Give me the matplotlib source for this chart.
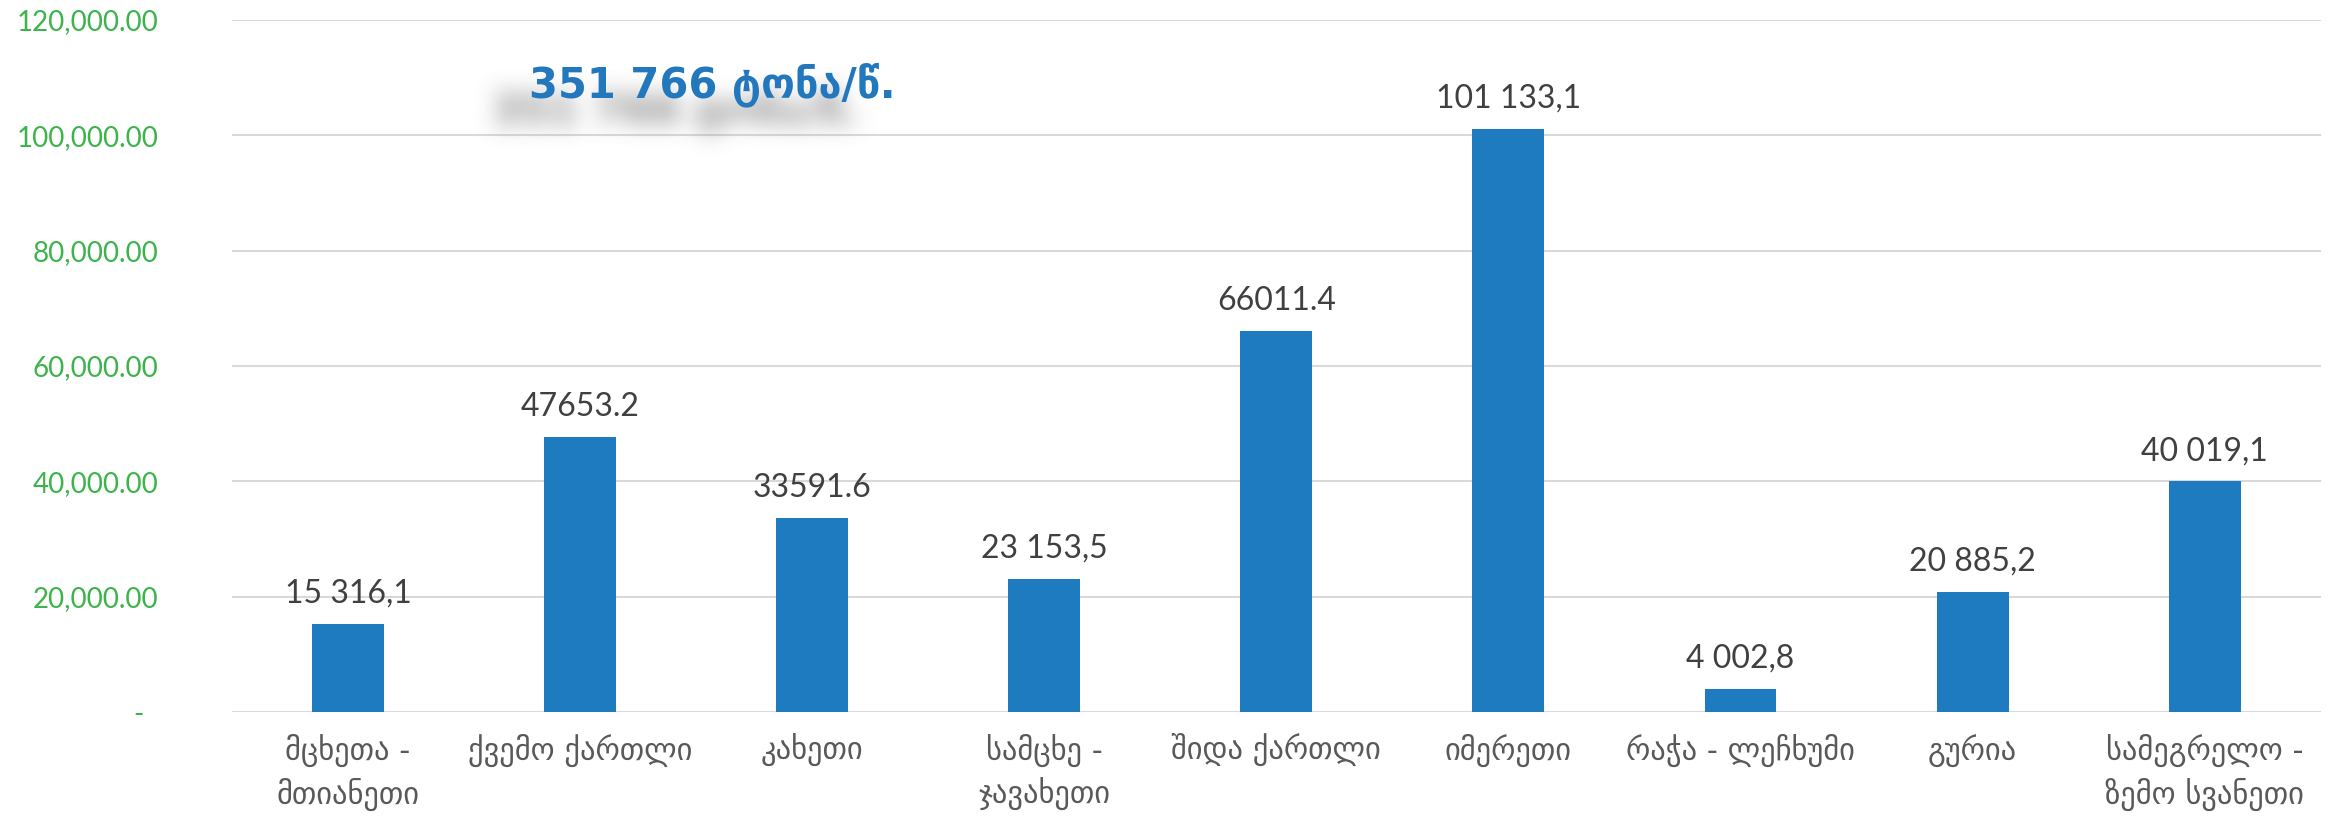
import numpy as np
import matplotlib
matplotlib.use('Agg')
import matplotlib.pyplot as plt
from matplotlib.ticker import FuncFormatter

regions = ["მცხეთა -\nმთიანეთი", "ქვემო ქართლი", "კახეთი", "სამცხე -\nჯავახეთი",
           "შიდა ქართლი", "იმერეთი", "რაჭა - ლეჩხუმი", "გურია",
           "სამეგრელო -\nზემო სვანეთი"]
values = [15316.1, 47653.2, 33591.6, 23153.5, 66011.4, 101133.1, 4002.8, 20885.2, 40019.1]
value_labels = ["15 316,1", "47653.2", "33591.6", "23 153,5", "66011.4",
                "101 133,1", "4 002,8", "20 885,2", "40 019,1"]
total_label = "351 766 ტონა/წ."
yticks = [0, 20000, 40000, 60000, 80000, 100000, 120000]

plt.rcParams['font.family'] = ['DejaVu Sans']
W, H, DPI = 23.3, 8.19, 100
title_xy = (0.3056, 0.896)
title_kw = dict(ha='center', va='center', fontsize=30, fontweight='bold')


def blur(a, r, passes=3):
    # repeated box blur along both axes ~ gaussian
    for _ in range(passes):
        for axis in (0, 1):
            pad = [(0, 0), (0, 0)]
            pad[axis] = (r + 1, r)
            c = np.cumsum(np.pad(a, pad), axis=axis)
            if axis == 0:
                a = (c[2 * r + 1:] - c[:-2 * r - 1]) / (2 * r + 1)
            else:
                a = (c[:, 2 * r + 1:] - c[:, :-2 * r - 1]) / (2 * r + 1)
    return a


# shadow of the total label, rendered separately and blurred
sfig = plt.figure(figsize=(W, H), dpi=DPI)
sfig.text(title_xy[0] - 37 / (W * DPI), title_xy[1] - 26 / (H * DPI), total_label,
          color='black', **title_kw)
sfig.canvas.draw()
buf = np.asarray(sfig.canvas.buffer_rgba()).astype(float)
plt.close(sfig)
mask = 1 - buf[:, :, 0] / 255.0
mask = blur(mask, 10)
shadow = np.zeros(mask.shape + (4,))
shadow[:, :, :3] = 0.5
shadow[:, :, 3] = np.clip(mask * 0.9, 0, 1)

fig = plt.figure(figsize=(W, H), dpi=DPI)
ax = fig.add_axes([0.0996, 0.1306, 0.8964, 0.845])

x = range(len(values))
bars = ax.bar(x, values, width=0.31, color='#1f7bc0', zorder=3)
for b, lab in zip(bars, value_labels):
    ax.text(b.get_x() + b.get_width() / 2, b.get_height() + 2600, lab,
            ha='center', va='bottom', fontsize=23, family='Lato',
            color='#404040', zorder=4)

ax.set_xlim(-0.5, len(values) - 0.5)
ax.set_ylim(0, 120000)
ax.set_yticks(yticks)
ax.yaxis.set_major_formatter(FuncFormatter(lambda v, p: '-  ' if v == 0 else f'{v:,.2f}'))
ax.tick_params(axis='y', length=0, pad=53, labelsize=20, labelcolor='#3cb44b')
for t in ax.get_yticklabels():
    t.set_family('Lato')
ax.set_xticks(list(x))
ax.set_xticklabels(regions, fontsize=22, color='#595959', linespacing=1.4)
ax.tick_params(axis='x', length=0, pad=16)

ax.grid(axis='y', color='#d9d9d9', linewidth=1.5, zorder=0)
for s in ax.spines.values():
    s.set_visible(False)

fig.figimage(shadow, 0, 0, origin='upper', zorder=5)
fig.text(title_xy[0], title_xy[1], total_label, color='#2378bd', zorder=6, **title_kw)

plt.savefig('out.png', dpi=DPI)
plt.close()
